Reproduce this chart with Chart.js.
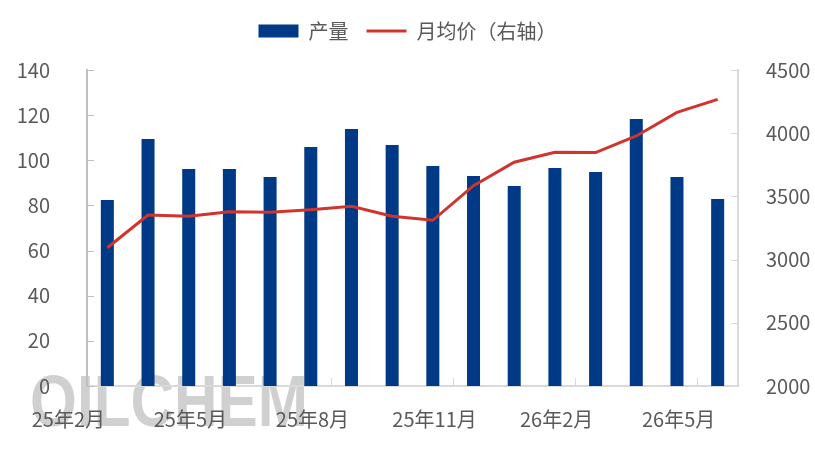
<!DOCTYPE html>
<html>
<head>
  <meta charset="utf-8">
  <title>产量与月均价</title>
  <script type="text/javascript" src="https://cdn.jsdelivr.net/npm/chart.js"></script>
  <style>
    html, body { margin: 0; padding: 0; background: #fff; }
    #chart-box { width: 815px; height: 461px; }
  </style>
</head>
<body>
  <div id="chart-box">
    <canvas id="chart"></canvas>
  </div>

  <script type="text/javascript">
    // data
    const months = ['25年2月', '25年3月', '25年4月', '25年5月', '25年6月', '25年7月', '25年8月', '25年9月',
                    '25年10月', '25年11月', '25年12月', '26年1月', '26年2月', '26年3月', '26年4月', '26年5月'];
    const output = [82.4, 109.4, 96.1, 96.1, 92.6, 105.9, 113.9, 106.8,
                    97.5, 93.0, 88.6, 96.6, 94.8, 118.3, 92.6, 82.9];
    const avgPrice = [3094, 3353, 3343, 3379, 3374, 3395, 3422, 3343,
                      3311, 3585, 3770, 3849, 3847, 3978, 4165, 4268];
    const leftTicks = { min: 0, max: 140, step: 20 };
    const rightTicks = { min: 2000, max: 4500, step: 500 };
    const labelEvery = 3;

    const FONT = "'Noto Sans CJK SC', 'Microsoft YaHei', sans-serif";
    const TEXT = '#595959';

    // extra room under the legend
    const legendGap = {
        id: 'legendGap',
        beforeInit(chart) {
            const fit = chart.legend.fit;
            chart.legend.fit = function() {
                fit.call(this);
                this.height += 19;
            };
        }
    };

    // faint watermark behind the plot
    const watermark = {
        id: 'watermark',
        beforeDraw(chart) {
            const ctx = chart.ctx;
            ctx.save();
            ctx.font = "bold 72px 'Liberation Sans', sans-serif";
            const w = ctx.measureText('OILCHEM').width;
            const g = ctx.createLinearGradient(0, 372, 0, 426);
            g.addColorStop(0, '#d0d0d0');
            g.addColorStop(0.6, '#e6e6e6');
            g.addColorStop(1, '#f7f7f7');
            ctx.fillStyle = g;
            ctx.textBaseline = 'alphabetic';
            ctx.translate(30, 426);
            ctx.scale(278 / w, 1);
            ctx.fillText('OILCHEM', 0, 0);
            ctx.restore();
        }
    };

    // short inward tick marks on the three axes
    const innerTicks = {
        id: 'innerTicks',
        afterDatasetsDraw(chart) {
            const ctx = chart.ctx;
            const x = chart.scales.x, y = chart.scales.y, y1 = chart.scales.y1;
            ctx.save();
            ctx.lineWidth = 1;
            ctx.strokeStyle = '#bfbfbf';
            ctx.beginPath();
            y.ticks.forEach(t => {
                const py = Math.round(y.getPixelForValue(t.value)) + 0.5;
                ctx.moveTo(x.left, py);
                ctx.lineTo(x.left + 7, py);
            });
            ctx.stroke();
            ctx.strokeStyle = '#d9d9d9';
            ctx.beginPath();
            y1.ticks.forEach(t => {
                const py = Math.round(y1.getPixelForValue(t.value)) + 0.5;
                ctx.moveTo(x.right, py);
                ctx.lineTo(x.right - 7, py);
            });
            const half = (x.getPixelForValue(1) - x.getPixelForValue(0)) / 2;
            for (let i = labelEvery; i < months.length; i += labelEvery) {
                const px = Math.round(x.getPixelForValue(i) - half) + 0.5;
                ctx.moveTo(px, y.bottom);
                ctx.lineTo(px, y.bottom - 8);
            }
            ctx.stroke();
            ctx.restore();
        }
    };

    const ctx = document.getElementById('chart');
    const chart = new Chart(ctx, {
        data: {
            labels: months,
            datasets: [
                {
                    type: 'line',
                    label: '月均价（右轴）',
                    data: avgPrice,
                    yAxisID: 'y1',
                    borderColor: '#d0342c',
                    backgroundColor: '#d0342c',
                    borderWidth: 3,
                    pointRadius: 0,
                    tension: 0,
                    order: 0
                },
                {
                    type: 'bar',
                    label: '产量',
                    data: output,
                    yAxisID: 'y',
                    backgroundColor: '#003a86',
                    barPercentage: 0.32,
                    categoryPercentage: 1,
                    order: 1
                }
            ]
        },
        options: {
            responsive: true,
            maintainAspectRatio: false,
            animation: false,
            layout: { padding: { top: 3, left: 0, right: 0, bottom: 0 } },
            scales: {
                x: {
                    offset: true,
                    grid: { display: false },
                    border: { display: true, color: '#d9d9d9', width: 2 },
                    ticks: {
                        autoSkip: false,
                        maxRotation: 0,
                        padding: 13,
                        labelOffset: -39,
                        color: TEXT,
                        font: { family: FONT, size: 20 },
                        callback: (v, i) => (i % labelEvery === 0 ? months[i] : '')
                    },
                    afterFit: s => { s.height = 75; }
                },
                y: {
                    position: 'left',
                    min: leftTicks.min,
                    max: leftTicks.max,
                    grid: { display: false },
                    border: { display: true, color: '#bfbfbf', width: 2 },
                    ticks: {
                        stepSize: leftTicks.step,
                        padding: 29,
                        color: TEXT,
                        font: { family: FONT, size: 20 }
                    },
                    afterFit: s => { s.width = 87; }
                },
                y1: {
                    position: 'right',
                    min: rightTicks.min,
                    max: rightTicks.max,
                    grid: { display: false },
                    border: { display: true, color: '#d9d9d9', width: 2 },
                    ticks: {
                        stepSize: rightTicks.step,
                        padding: 20,
                        color: TEXT,
                        font: { family: FONT, size: 20 },
                        callback: v => String(v)
                    },
                    afterFit: s => { s.width = 77; }
                }
            },
            plugins: {
                tooltip: { enabled: false },
                legend: {
                    position: 'top',
                    reverse: true,
                    labels: {
                        color: TEXT,
                        font: { family: FONT, size: 20 },
                        usePointStyle: true,
                        pointStyleWidth: 40,
                        boxHeight: 13,
                        padding: 18,
                        generateLabels: c => c.data.datasets.map((d, i) => ({
                            text: d.label,
                            datasetIndex: i,
                            fillStyle: d.type === 'bar' ? d.backgroundColor : 'transparent',
                            strokeStyle: d.type === 'bar' ? d.backgroundColor : d.borderColor,
                            lineWidth: d.type === 'bar' ? 0 : 3,
                            pointStyle: d.type === 'bar' ? 'rect' : 'line',
                            fontColor: TEXT,
                            hidden: false
                        }))
                    }
                }
            }
        },
        plugins: [legendGap, watermark, innerTicks]
    });
  </script>
</body>
</html>
